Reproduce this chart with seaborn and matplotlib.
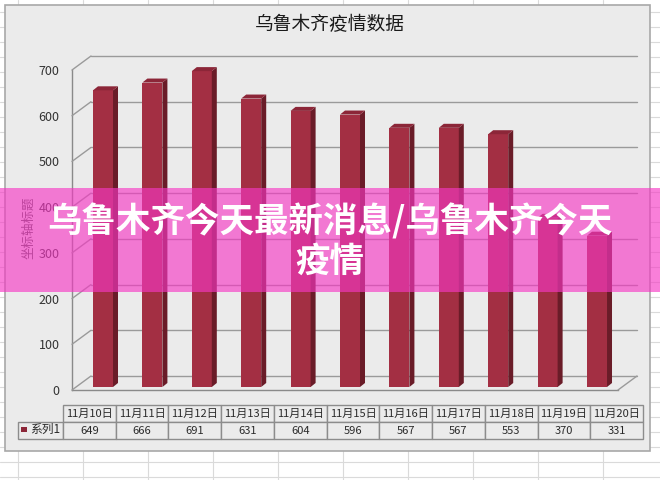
import matplotlib
matplotlib.use("Agg")
import matplotlib.pyplot as plt
import matplotlib.transforms as mtransforms
from matplotlib.patches import Rectangle, Polygon
from matplotlib.lines import Line2D
import seaborn as sns
import pandas as pd

sns.set_theme(style="white")
plt.rcParams['font.family'] = ['Noto Sans CJK SC', 'DejaVu Sans']

# data
dates = ['11月10日', '11月11日', '11月12日', '11月13日', '11月14日', '11月15日',
         '11月16日', '11月17日', '11月18日', '11月19日', '11月20日']
cases = [649, 666, 691, 631, 604, 596, 567, 567, 553, 370, 331]
yticks = [0, 100, 200, 300, 400, 500, 600, 700]
series_name = '系列1'
title = '乌鲁木齐疫情数据'
ylabel = '坐标轴标题'
banner = '乌鲁木齐今天最新消息/乌鲁木齐今天\n疫情'

df = pd.DataFrame({'date': dates, 'cases': cases})

W, H = 660, 480
fig = plt.figure(figsize=(6.6, 4.8), dpi=100)
fig.patch.set_facecolor('white')

# spreadsheet grid behind the chart
for yy in range(0, H, 15):
    fig.add_artist(Line2D([0, 1], [1 - (yy + 12) / H] * 2, transform=fig.transFigure,
                          color='#dadada', lw=0.8, zorder=-3))
for xx in range(18, W, 65):
    fig.add_artist(Line2D([xx / W] * 2, [0, 1], transform=fig.transFigure,
                          color='#dadada', lw=0.8, zorder=-3))

# chart area
fig.add_artist(Rectangle((5 / W, 1 - 451 / H), 645 / W, 446 / H, transform=fig.transFigure,
                         facecolor='#ebebeb', edgecolor='#a8a8a8', lw=1.2, zorder=-1))

front = '#a32f43'
side = '#6a1c28'
top = '#8c2638'

ax = fig.add_axes([72 / W, 90 / H, 546 / W, 320 / H])
ax.set_facecolor('none')
sns.barplot(data=df, x='date', y='cases', color=front, width=0.405,
            saturation=1, ax=ax, zorder=3)
ax.set_xlim(-0.6275, 10.425)
ax.set_ylim(0, 700)

# back wall gridlines (3D look)
wall = ax.transData + mtransforms.ScaledTranslation(0.19, 0.14, fig.dpi_scale_trans)
x0, x1 = ax.get_xlim()
for v in yticks:
    ax.add_line(Line2D([x0, x1], [v, v], transform=wall, color='#9a9a9a', lw=1,
                       clip_on=False, zorder=1))
    fx, fy = ax.transData.transform((x0, v))
    bx, by = wall.transform((x0, v))
    fig.add_artist(Line2D([fx / W, bx / W], [fy / H, by / H], transform=fig.transFigure,
                          color='#9a9a9a', lw=1, zorder=1))
# floor right edge
fx, fy = ax.transData.transform((x1, 0))
bx, by = wall.transform((x1, 0))
fig.add_artist(Line2D([fx / W, bx / W], [fy / H, by / H], transform=fig.transFigure,
                      color='#9a9a9a', lw=1, zorder=1))

# bar depth faces
bb = ax.get_window_extent()
dx = 5 * (x1 - x0) / bb.width
dy = 4 * 700 / bb.height
bar_shift = ax.transData + mtransforms.ScaledTranslation(0, 0.03, fig.dpi_scale_trans)
for p in list(ax.patches):
    p.set_transform(bar_shift)
    p.set_edgecolor('none')
    bx0, bw, bh = p.get_x(), p.get_width(), p.get_height()
    ax.add_patch(Polygon([(bx0 + bw, 0), (bx0 + bw + dx, dy), (bx0 + bw + dx, bh + dy),
                          (bx0 + bw, bh)], closed=True, facecolor=side, edgecolor='none',
                         transform=bar_shift, clip_on=False, zorder=3))
    ax.add_patch(Polygon([(bx0, bh), (bx0 + dx, bh + dy), (bx0 + bw + dx, bh + dy),
                          (bx0 + bw, bh)], closed=True, facecolor=top, edgecolor='none',
                         transform=bar_shift, clip_on=False, zorder=3))

for s in ['top', 'right']:
    ax.spines[s].set_visible(False)
for s in ['left', 'bottom']:
    ax.spines[s].set_color('#8a8a8a')
    ax.spines[s].set_linewidth(1)
ax.set_yticks(yticks)
ax.set_yticklabels([str(t) for t in yticks], fontsize=9, color='#333333')
ax.tick_params(axis='y', length=0, pad=9)
ax.set_xticks([])
ax.set_xlabel('')
ax.set_ylabel('')

# data table
tab = fig.add_axes([18 / W, 41 / H, 625 / W, 34 / H])
tab.axis('off')
tbl = tab.table(cellText=[[''] + dates, [''] + [str(c) for c in cases]],
                colWidths=[45 / 625] + [52.7 / 625] * len(dates),
                cellLoc='center', bbox=[0, 0, 1, 1])
tbl.auto_set_font_size(False)
tbl.set_fontsize(8)
for (r, c), cell in tbl.get_celld().items():
    cell.set_facecolor('#ebebeb')
    cell.set_edgecolor('#8c8c8c')
    cell.get_text().set_color('#2a2a2a')
    if r == 0 and c == 0:
        cell.visible_edges = ''
tab.add_patch(Rectangle((3 / 625, 0.2), 6 / 625, 0.16, transform=tab.transAxes,
                        facecolor='#8c2638', edgecolor='none', clip_on=False, zorder=5))
tab.text(12 / 625, 0.27, series_name, transform=tab.transAxes, fontsize=8.5,
         color='#2a2a2a', va='center', ha='left', zorder=5)

fig.text(0.5, 1 - 25 / H, title, ha='center', va='center', fontsize=13.5, color='#1a1a1a')
fig.text(29 / W, 1 - 228 / H, ylabel, ha='center', va='center', rotation=90,
         fontsize=9, color='#555555')

# pink banner overlay
fig.add_artist(Rectangle((0, 1 - 292 / H), 1, 104 / H, transform=fig.transFigure,
                         facecolor='#f637c4', alpha=0.64, edgecolor='none', zorder=10))
fig.text(0.5, 1 - 241 / H, banner, ha='center', va='center', fontsize=24.8,
         fontweight='bold', color='white', linespacing=1.15, zorder=11)

fig.savefig('out.png', dpi=100)
